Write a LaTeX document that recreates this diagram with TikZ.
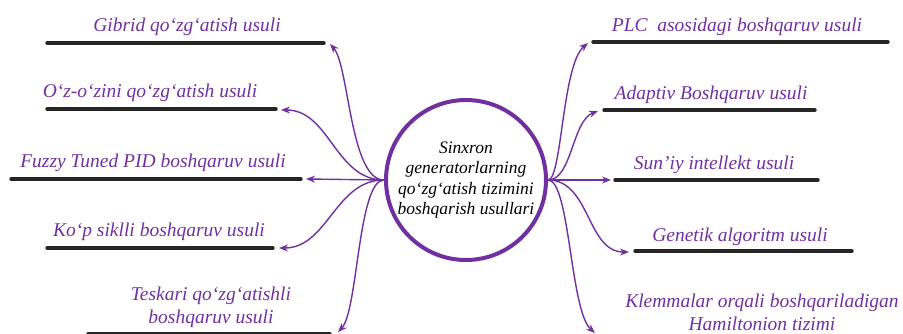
\documentclass[tikz,border=0pt]{standalone}
\usepackage{fontspec}
\setmainfont{Liberation Serif}
\usetikzlibrary{arrows.meta}
\definecolor{tim}{HTML}{7030A0}
\tikzset{
	nhan/.style={text=tim,font=\fontsize{19.5}{23}\selectfont\itshape,align=center,inner sep=0pt},
	gach/.style={line width=3.4pt,black!85,line cap=round},
	mui/.style={tim,line width=1.4pt,-{Stealth[length=9pt,width=7pt]}}
}
\begin{document}
\begin{tikzpicture}[x=1pt,y=1pt,line join=round]
		\useasboundingbox (0,0) rectangle (903,333);
		%==Tâm
		\node[circle,draw=tim,line width=4pt,minimum size=160pt,inner sep=0pt,align=center,
			font=\fontsize{17.5}{20.5}\selectfont\itshape] (O) at (466,153)
			{Sinxron\\generatorlarning\\qo‘zg‘atish tizimini\\boshqarish usullari};
		%==Bên trái
		\coordinate (A1) at (47,290); \coordinate (B1) at (324,290); \coordinate (T1) at (330,289);
		\coordinate (A2) at (47,224); \coordinate (B2) at (276,224); \coordinate (T2) at (281,223);
		\coordinate (A3) at (11,154); \coordinate (B3) at (301,154); \coordinate (T3) at (306,154);
		\coordinate (A4) at (47,85);  \coordinate (B4) at (273,85);  \coordinate (T4) at (279,85);
		\coordinate (A5) at (88,-1);  \coordinate (B5) at (330,-1);  \coordinate (T5) at (338,1);
		%==Bên phải
		\coordinate (C1) at (593,291); \coordinate (D1) at (888,291); \coordinate (S1) at (588,290);
		\coordinate (C2) at (604,223); \coordinate (D2) at (815,223); \coordinate (S2) at (598,222);
		\coordinate (C3) at (615,153); \coordinate (D3) at (818,153); \coordinate (S3) at (611,153);
		\coordinate (C4) at (635,82);  \coordinate (D4) at (852,82);  \coordinate (S4) at (629,81);
		\coordinate (S5) at (595,0);
		\foreach \p/\q in {A1/B1,A2/B2,A3/B3,A4/B4,A5/B5,C1/D1,C2/D2,C3/D3,C4/D4}{\draw[gach] (\p)--(\q);}
		%==Nhãn
		\node[nhan] (L1) at (187,306) {Gibrid qo‘zg‘atish usuli};
		\node[nhan] (L2) at (150,240) {O‘z-o‘zini qo‘zg‘atish usuli};
		\node[nhan] (L3) at (153,170) {Fuzzy Tuned PID boshqaruv usuli};
		\node[nhan] (L4) at (159,101) {Ko‘p siklli boshqaruv usuli};
		\node[nhan] (L5) at (211,26)  {Teskari qo‘zg‘atishli\\boshqaruv usuli};
		\node[nhan] (R1) at (737,306) {PLC \ asosidagi boshqaruv usuli};
		\node[nhan] (R2) at (711,238) {Adaptiv Boshqaruv usuli};
		\node[nhan] (R3) at (714,168) {Sun’iy intellekt usuli};
		\node[nhan] (R4) at (740,96)  {Genetik algoritm usuli};
		\node[nhan] (R5) at (762,21)  {Klemmalar orqali boshqariladigan\\Hamiltonion tizimi};
		%==Mũi tên
		\draw[mui] (O.west) .. controls (350,153) and (349,268) .. (T1);
		\draw[mui] (O.west) to[out=180,in=0] (T2);
		\draw[mui] (O.west) -- (T3);
		\draw[mui] (O.west) to[out=180,in=0] (T4);
		\draw[mui] (O.west) .. controls (358,153) and (358,22) .. (T5);
		\draw[mui] (O.east) .. controls (562,153) and (562,268) .. (S1);
		\draw[mui] (O.east) .. controls (572,153) and (572,212) .. (S2);
		\draw[mui] (O.east) -- (S3);
		\draw[mui] (O.east) to[out=0,in=180] (S4);
		\draw[mui] (O.east) .. controls (570,153) and (570,22) .. (S5);
\end{tikzpicture}
\end{document}
